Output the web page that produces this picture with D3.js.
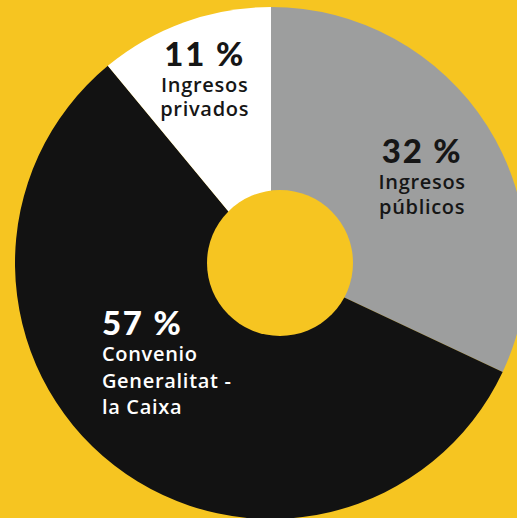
<!DOCTYPE html>
<html lang="es">
<head>
  <meta charset="UTF-8">
  <title>Ingresos</title>
  <script src="https://d3js.org/d3.v7.min.js"></script>
  <style>
    html, body {
      margin: 0;
      padding: 0;
      background: #f6c521;
      overflow: hidden;
    }
    svg { display: block; }
    .pct { font-family: "Lato", sans-serif; font-weight: 900; font-size: 33px; letter-spacing: 1.8px; }
    .lbl { font-family: "Open Sans", sans-serif; font-weight: 600; font-size: 20px; letter-spacing: 0.7px; }
  </style>
</head>
<body>
  <svg id="chart" width="517" height="518"></svg>

  <script>
    // Data
    const categories = ["Ingresos públicos", "Convenio Generalitat - la Caixa", "Ingresos privados"];
    const values = [32, 57, 11];
    const labelLines = [["Ingresos", "públicos"], ["Convenio", "Generalitat -", "la Caixa"], ["Ingresos", "privados"]];
    const sliceColors = ["#9d9e9e", "#121212", "#ffffff"];
    const textColors = ["#161616", "#ffffff", "#161616"];

    const svg = d3.select("#chart");
    const cx = 271, cy = 263;
    const R = 256;

    const pie = d3.pie().sort(null).value(d => d)(values);
    const arc = d3.arc().innerRadius(0).outerRadius(R);

    const g = svg.append("g").attr("transform", `translate(${cx},${cy})`);

    g.selectAll("path")
      .data(pie)
      .enter().append("path")
      .attr("d", arc)
      .attr("fill", (d, i) => sliceColors[i]);

    // centre hole (slightly off-centre, as in the original)
    g.append("circle")
      .attr("cx", 9)
      .attr("cy", 0)
      .attr("r", 73)
      .attr("fill", "#f6c521");

    // label placement: polar offset from centre, per slice
    const labelPos = [
      { r: 181, da: -1.0, anchor: "middle", step: 25 },
      { r: 184, da: 29, anchor: "start", step: 26.5 },
      { r: 208, da: 1.2, anchor: "middle", step: 24.5 }
    ];

    pie.forEach((d, i) => {
      const p = labelPos[i];
      const a = (d.startAngle + d.endAngle) / 2 + p.da * Math.PI / 180;
      const x = Math.sin(a) * p.r;
      const y = -Math.cos(a) * p.r;
      const t = g.append("text")
        .attr("text-anchor", p.anchor)
        .attr("fill", textColors[i])
        .attr("transform", `translate(${x},${y})`);
      t.append("tspan")
        .attr("class", "pct")
        .attr("x", 0)
        .attr("y", 0)
        .text(d.data + " %");
      labelLines[i].forEach((line, j) => {
        t.append("tspan")
          .attr("class", "lbl")
          .attr("x", 0)
          .attr("y", 26 + j * p.step)
          .text(line);
      });
    });
  </script>
</body>
</html>
